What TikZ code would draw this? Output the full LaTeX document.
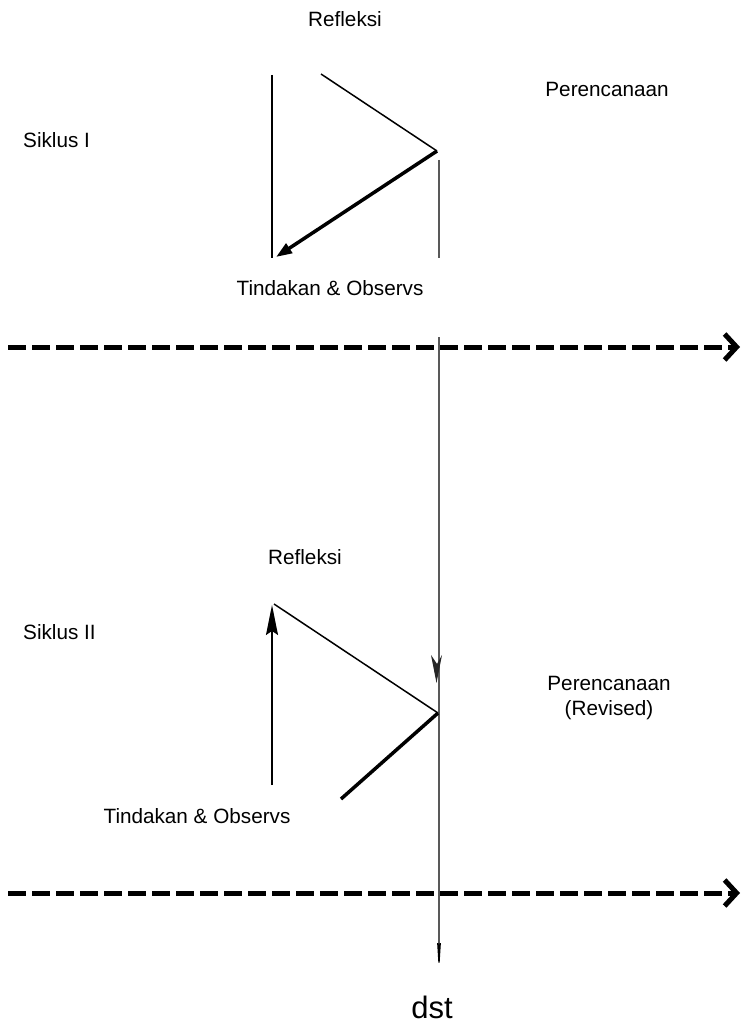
\documentclass[tikz,border=0pt]{standalone}
\usepackage{fontspec}
\setmainfont{Liberation Sans}
\usetikzlibrary{arrows.meta}

\tikzset{
  lbl/.style={font=\fontsize{20.7}{25}\selectfont, anchor=base, inner sep=0pt},
  thinln/.style={line width=1.5pt},
  thickln/.style={line width=3.5pt},
  guide/.style={line width=1.3pt, draw=black!65},
  timeline/.style={line width=5pt, dash pattern=on 18pt off 6pt,
    -{Straight Barb[length=12pt,width=26pt]}},
}

\begin{document}
\begin{tikzpicture}[x=1pt,y=-1pt]
\useasboundingbox (0,0) rectangle (743,1027);

% siklus I
\coordinate (a1) at (272,75);
\coordinate (b1) at (272,258);
\coordinate (c1) at (321,74);
\coordinate (p1) at (437,151);
\coordinate (t1) at (276,257);
\coordinate (g1) at (439,160);
\coordinate (h1) at (439,258);

\draw[thinln] (a1) -- (b1);
\draw[thinln] (c1) -- (p1);
\draw[thickln, -{Triangle[length=16pt,width=11pt]}] (p1) -- (t1);
\draw[guide] (g1) -- (h1);

\node[lbl] (refl1) at (345,27) {Refleksi};
\node[lbl] (renc1) at (607,97) {Perencanaan};
\node[lbl, anchor=base west] (sik1) at (23,148) {Siklus I};
\node[lbl] (tind1) at (330,295) {Tindakan \& Observs};

% garis waktu
\coordinate (d1s) at (8,347);
\coordinate (d1e) at (740,347);
\coordinate (d2s) at (8,893);
\coordinate (d2e) at (740,893);
\draw[timeline] (d1s) -- (d1e);
\draw[timeline] (d2s) -- (d2e);

\coordinate (v0) at (439,337);
\coordinate (v1) at (439,973);
\draw[guide, -{Stealth[length=40pt,width=5pt,color=black]}] (v0) -- (v1);

% siklus II
\coordinate (a2) at (272,785);
\coordinate (b2) at (272,605);
\coordinate (c2) at (274,604);
\coordinate (p2) at (438,713);
\coordinate (t2) at (341,799);

\draw[thinln, -{Stealth[length=30pt,width=12pt,inset=4pt]}] (a2) -- (b2);
\draw[thinln] (c2) -- (p2);
\draw[thickln] (p2) -- (t2);
\fill[black!85] (431,655) -- (436.5,683) -- (442,655) -- (437,664) -- cycle;

\node[lbl] (refl2) at (305,564) {Refleksi};
\node[lbl, anchor=base west] (sik2) at (23,639) {Siklus II};
\node[lbl, anchor=center, align=center] (renc2) at (609,698) {Perencanaan\\(Revised)};
\node[lbl] (tind2) at (197,823) {Tindakan \& Observs};

\node[lbl, font=\fontsize{31}{36}\selectfont] (dst) at (432,1018) {dst};

\end{tikzpicture}
\end{document}
